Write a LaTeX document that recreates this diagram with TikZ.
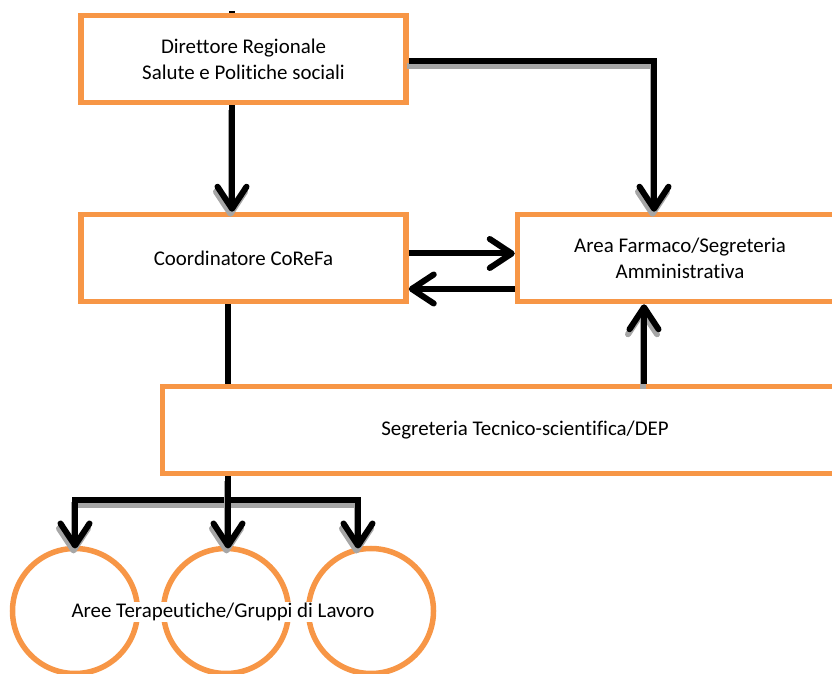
\documentclass[tikz,border=0pt]{standalone}
\usepackage{fontspec}
\setmainfont{Carlito}[Ligatures=NoCommon]
\usetikzlibrary{arrows.meta}
\definecolor{boxorange}{RGB}{247,150,70}

\begin{document}
\begin{tikzpicture}[
        box/.style={draw=boxorange, line width=0.11cm, fill=white, minimum width=6.5cm, minimum height=1.74cm, align=center, font=\fontsize{11.9}{14.8}\selectfont},
        group/.style={circle, draw=boxorange, line width=0.11cm, minimum size=2.5cm, outer sep=0pt},
        arr/.style={line width=0.12cm, -{Straight Barb[length=0.44cm, width=0.58cm, round]}},
        bar/.style={line width=0.12cm},
        shadowed/.style={preaction={draw=black!35, line width=0.12cm, transform canvas={xshift=-0.03cm, yshift=-0.1cm}}}
    ]
            \clip(0, 0) rectangle (16.64, 13.46);

            \node[box] (dir) at(4.87, 12.28){Direttore Regionale\\Salute e Politiche sociali};
            \node[box] (coord) at(4.87, 8.30){Coordinatore CoReFa};
            \node[box] (area) at(13.6, 8.30){Area Farmaco/Segreteria\\Amministrativa};
            \node[box, minimum width=14.5cm] (dep) at(10.5, 4.86){Segreteria Tecnico-scientifica/DEP};

            \node[group] (wg1) at(1.5, 1.24){};
            \node[group] (wg2) at(4.52, 1.24){};
            \node[group] (wg3) at(7.42, 1.24){};
                \node[fill=white, inner sep=0.5pt, font=\fontsize{11.9}{14.8}\selectfont] (aree) at(4.46, 1.22){Aree Terapeutiche/Gruppi di Lavoro};

            %%top
            \coordinate (top) at(4.64, 13.24);
            \draw[bar](top) to (top |- dir.north);
            \coordinate (down) at ([xshift=-0.23cm]dir.south);
            \draw[arr, shadowed](down) to (down |- coord.north);

            \draw[arr, shadowed]([yshift=-0.04cm]dir.east) -| ([xshift=-0.52cm]area.north);

            %%exchange
            \draw[arr]([yshift=0.09cm]coord.east) to ([yshift=0.09cm]area.west);
            \draw[arr]([yshift=-0.62cm]area.west) to ([yshift=-0.62cm]coord.east);

            \coordinate (up) at ([xshift=-0.72cm]area.south);
            \draw[arr, shadowed](dep.north -| up) to (up);

            %%branch
            \coordinate (fork) at(4.56, 3.45);
            \coordinate (right) at([xshift=-0.26cm]wg3.north);
            \draw[bar](coord.south -| fork) to (dep.north -| fork);
            \draw[arr, shadowed](fork) -| (wg1.north);
            \draw[arr, shadowed](fork) -| (right);
            \draw[arr, shadowed](dep.south -| fork) to (fork |- wg2.north);

\end{tikzpicture}
\end{document}
